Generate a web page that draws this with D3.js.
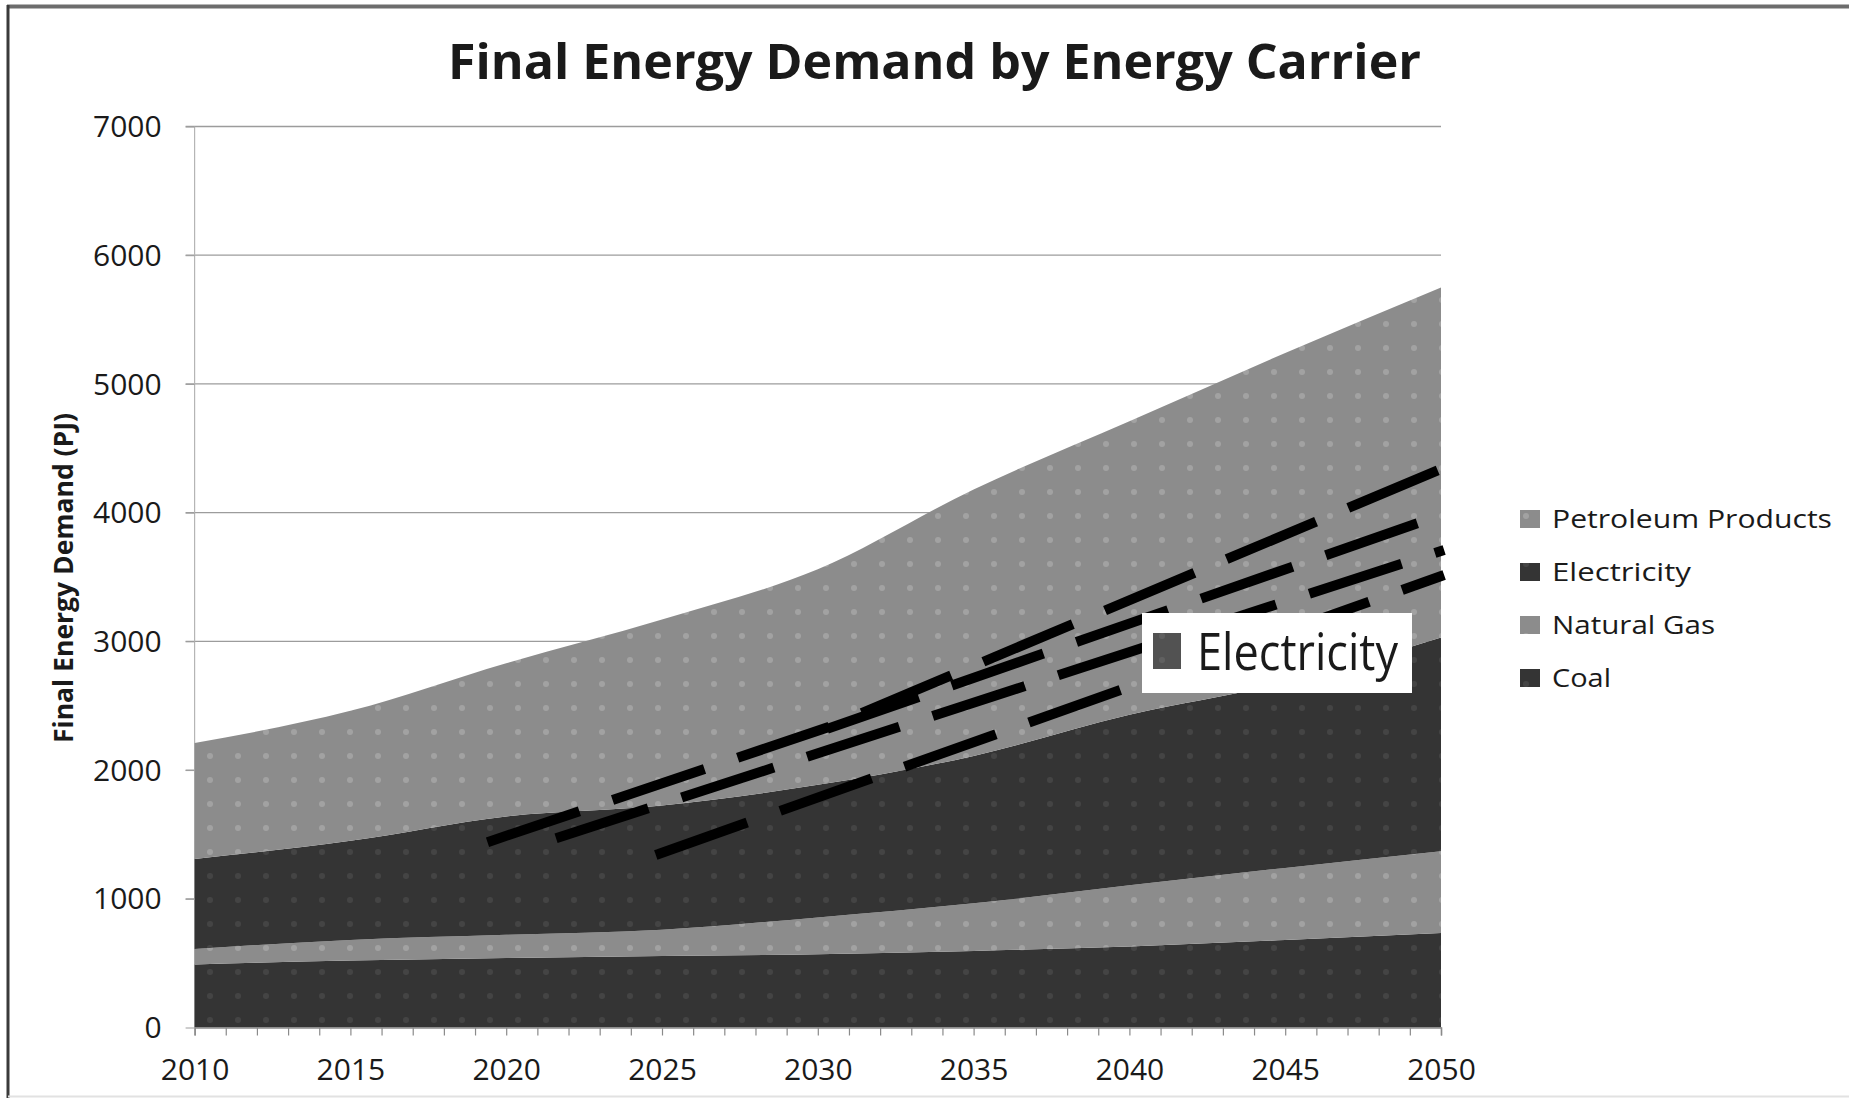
<!DOCTYPE html>
<html>
<head>
<meta charset="utf-8">
<script src="https://cdn.jsdelivr.net/npm/d3@7"></script>
<style>
  html, body { margin: 0; padding: 0; background: #fff; }
  svg { display: block; }
  text { font-family: "Open Sans", "DejaVu Sans", sans-serif; fill: #1a1a1a; }
</style>
</head>
<body>
<svg id="chart" width="1849" height="1098"></svg>
<script>
// ---------- data ----------
const years = [2010, 2015, 2020, 2025, 2030, 2035, 2040, 2045, 2050];
const coal = [490, 520, 540, 555, 570, 595, 630, 680, 735];
const naturalGas = [120, 160, 180, 205, 285, 370, 475, 560, 635];
const electricity = [700, 770, 920, 965, 1030, 1145, 1325, 1440, 1660];
const petroleumProducts = [900, 1010, 1190, 1445, 1675, 2070, 2280, 2560, 2720];

const seriesKeys = ["coal", "naturalGas", "electricity", "petroleumProducts"];
const seriesLabels = ["Coal", "Natural Gas", "Electricity", "Petroleum Products"];
const legendOrder = ["petroleumProducts", "electricity", "naturalGas", "coal"];

const yTicks = [0, 1000, 2000, 3000, 4000, 5000, 6000, 7000];
const xLabelTicks = [2010, 2015, 2020, 2025, 2030, 2035, 2040, 2045, 2050];

const titleText = "Final Energy Demand by Energy Carrier";
const yAxisTitle = "Final Energy Demand (PJ)";
const calloutText = "Electricity";

// hand-drawn dashed annotation lines, in (year, PJ)
const annoLineA = [[2019.4, 1440], [2030.3, 2330], [2050.1, 4350]];
const annoLineB = [[2021.6, 1470], [2050.1, 3710]];
const annoLineC = [[2024.8, 1340], [2050.1, 3515]];
const annoLineD = [[2030.3, 2320], [2050.1, 3990]];

// ---------- build ----------
const table = years.map((yr, i) => ({
  year: yr,
  coal: coal[i],
  naturalGas: naturalGas[i],
  electricity: electricity[i],
  petroleumProducts: petroleumProducts[i]
}));

const svg = d3.select("#chart");
const W = 1849, H = 1098;
const plot = { left: 194.6, right: 1441, top: 126.5, bottom: 1027.5 };

const x = d3.scaleLinear().domain([2010, 2050]).range([plot.left, plot.right]);
const y = d3.scaleLinear().domain([0, 7000]).range([plot.bottom, plot.top]);

// patterns (halftone-like texture)
const defs = svg.append("defs");
function makePattern(id, base, dot) {
  const p = defs.append("pattern").attr("id", id).attr("patternUnits", "userSpaceOnUse")
    .attr("width", 28).attr("height", 24);
  p.append("rect").attr("width", 28).attr("height", 24).attr("fill", base);
  p.append("circle").attr("cx", 14).attr("cy", 12).attr("r", 3).attr("fill", dot);
}
makePattern("patLight", "#8c8c8c", "#a2a2a2");
makePattern("patDark", "#343434", "#444444");
const fills = {
  coal: "url(#patDark)",
  naturalGas: "url(#patLight)",
  electricity: "url(#patDark)",
  petroleumProducts: "url(#patLight)"
};

// outer frame
svg.append("line").attr("x1", 7).attr("x2", W).attr("y1", 6.5).attr("y2", 6.5)
  .attr("stroke", "#6d6d6d").attr("stroke-width", 4);
svg.append("line").attr("x1", 8).attr("x2", 8).attr("y1", 5).attr("y2", H)
  .attr("stroke", "#3a3a3a").attr("stroke-width", 3);
svg.append("line").attr("x1", 8).attr("x2", W).attr("y1", 1096.5).attr("y2", 1096.5)
  .attr("stroke", "#e2e2e2").attr("stroke-width", 2);

// gridlines
svg.append("g").attr("class", "grid")
  .selectAll("line").data(yTicks.filter(d => d > 0)).join("line")
  .attr("x1", plot.left - 9).attr("x2", plot.right)
  .attr("y1", d => y(d)).attr("y2", d => y(d))
  .attr("stroke", "#9c9c9c").attr("stroke-width", 1.3);

// y axis line
svg.append("line").attr("x1", plot.left).attr("x2", plot.left)
  .attr("y1", plot.top).attr("y2", plot.bottom)
  .attr("stroke", "#b5b5b5").attr("stroke-width", 1.2);

// stacked areas
const stack = d3.stack().keys(seriesKeys);
const stacked = stack(table);
const area = d3.area()
  .x(d => x(d.data.year))
  .y0(d => y(d[0]))
  .y1(d => y(d[1]))
  .curve(d3.curveMonotoneX);

svg.append("g").selectAll("path").data(stacked).join("path")
  .attr("d", area)
  .attr("fill", d => fills[d.key]);

// x axis
const xAxis = d3.axisBottom(x)
  .tickValues(d3.range(2010, 2051, 1))
  .tickSize(8)
  .tickFormat(d => xLabelTicks.includes(d) ? String(d) : "");
const gx = svg.append("g").attr("transform", `translate(0,${plot.bottom})`).call(xAxis);
gx.select(".domain").attr("stroke", "#8a8a8a").attr("stroke-width", 1.5);
gx.selectAll(".tick line").attr("stroke", "#8a8a8a").attr("stroke-width", 1.2);
gx.selectAll(".tick text")
  .attr("font-family", '"Open Sans", sans-serif')
  .attr("font-size", 30).attr("fill", "#1a1a1a").attr("dy", "0").attr("y", 52);

// y axis labels
const yAxis = d3.axisLeft(y).tickValues(yTicks).tickSize(9).tickFormat(d3.format("d"));
const gy = svg.append("g").attr("transform", `translate(${plot.left},0)`).call(yAxis);
gy.select(".domain").remove();
gy.selectAll(".tick line").attr("stroke", "#9c9c9c");
gy.selectAll(".tick text")
  .attr("font-family", '"Open Sans", sans-serif')
  .attr("font-size", 30).attr("fill", "#1a1a1a").attr("x", -33).attr("dy", "0.34em");

// dashed annotation lines
const lineGen = d3.line().x(d => x(d[0])).y(d => y(d[1]));
svg.append("g").selectAll("path").data([annoLineA, annoLineB, annoLineC, annoLineD]).join("path")
  .attr("d", lineGen)
  .attr("fill", "none")
  .attr("stroke", "#000")
  .attr("stroke-width", 10)
  .attr("stroke-dasharray", "97 35");

// callout box
const cb = svg.append("g");
cb.append("rect").attr("x", 1142).attr("y", 613).attr("width", 270).attr("height", 80)
  .attr("fill", "#fff");
cb.append("rect").attr("x", 1153).attr("y", 633).attr("width", 28).attr("height", 36)
  .attr("fill", fills.electricity).attr("opacity", 0.85);
cb.append("text").attr("x", 1197).attr("y", 670)
  .attr("font-size", 52).attr("textLength", 201).attr("lengthAdjust", "spacingAndGlyphs")
  .text(calloutText);

// legend
const legendWidths = { petroleumProducts: 280, electricity: 139, naturalGas: 163, coal: 59 };
const lg = svg.append("g");
legendOrder.forEach((k, i) => {
  const by = 528 + i * 53;
  lg.append("rect").attr("x", 1520).attr("y", by - 18).attr("width", 20).attr("height", 18)
    .attr("fill", fills[k]);
  lg.append("text").attr("x", 1552).attr("y", by)
    .attr("font-size", 26).attr("font-weight", 500)
    .attr("textLength", legendWidths[k]).attr("lengthAdjust", "spacingAndGlyphs")
    .text(seriesLabels[seriesKeys.indexOf(k)]);
});

// title
svg.append("text").attr("x", 448).attr("y", 79)
  .attr("font-size", 48).attr("font-weight", 700)
  .attr("textLength", 973).attr("lengthAdjust", "spacingAndGlyphs")
  .text(titleText);

// y axis title
svg.append("text")
  .attr("transform", "translate(73,743) rotate(-90)")
  .attr("font-size", 26).attr("font-weight", 700)
  .attr("textLength", 330).attr("lengthAdjust", "spacingAndGlyphs")
  .text(yAxisTitle);
</script>
</body>
</html>
